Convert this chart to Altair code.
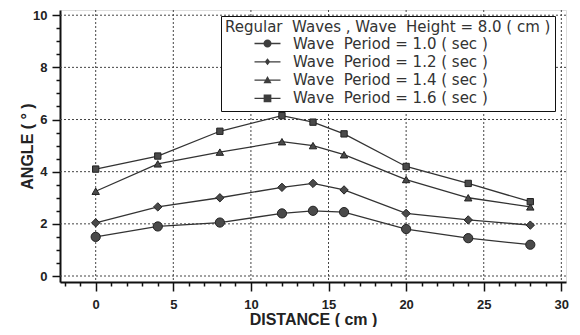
import altair as alt
import pandas as pd

distance = [0, 4, 8, 12, 14, 16, 20, 24, 28]
series_labels = [
    "Wave\u00a0 Period = 1.0 ( sec )",
    "Wave\u00a0 Period = 1.2 ( sec )",
    "Wave\u00a0 Period = 1.4 ( sec )",
    "Wave\u00a0 Period = 1.6 ( sec )",
]
angle_10 = [1.5, 1.9, 2.05, 2.4, 2.5, 2.45, 1.8, 1.45, 1.2]
angle_12 = [2.04, 2.65, 3.0, 3.4, 3.55, 3.3, 2.4, 2.15, 1.95]
angle_14 = [3.25, 4.3, 4.75, 5.15, 5.0, 4.65, 3.7, 3.0, 2.65]
angle_16 = [4.1, 4.6, 5.55, 6.15, 5.9, 5.45, 4.2, 3.55, 2.85]
x_tick_values = list(range(-2, 31))
y_tick_values = [i * 0.5 for i in range(21)]
x_grid_values = [0, 5, 10, 15, 20, 25, 30]
y_grid_values = [0, 2, 4, 6, 8, 10]

legend_title = "Regular\u00a0 Waves , Wave\u00a0 Height = 8.0 ( cm )"
shapes = ["circle", "diamond", "triangle-up", "square"]
# legend glyphs: a short horizontal bar (line) plus the marker, all filled
bar = "M-3.2,-0.16H3.2V0.16H-3.2Z"
legend_paths = [
    bar + "M1,0A1,1,0,1,1,-1,0A1,1,0,1,1,1,0Z",
    bar + "M0,-0.85L0.68,0L0,0.85L-0.68,0Z",
    bar + "M0,-1L1,0.8L-1,0.8Z",
    bar + "M-0.95,-0.95H0.95V0.95H-0.95Z",
]

rows = []
for lab, vals in zip(series_labels, [angle_10, angle_12, angle_14, angle_16]):
    for d, v in zip(distance, vals):
        rows.append({"distance": d, "angle": v, "series": lab})
df = pd.DataFrame(rows)
xg = pd.DataFrame({"distance": x_grid_values})
yg = pd.DataFrame({"angle": y_grid_values})

x_scale = alt.Scale(domain=[-2.3, 30.3], nice=False, zero=False)
y_scale = alt.Scale(domain=[-0.23, 10.2], nice=False, zero=False)

x_axis = alt.Axis(
    values=x_tick_values,
    title="DISTANCE ( cm )",
    labelExpr="datum.value % 5 === 0 ? format(datum.value, 'd') : ''",
    tickSize={"condition": {"test": "datum.value % 5 === 0", "value": 9}, "value": 4},
    grid=False,
    domainColor="#111111",
    domainWidth=2,
    tickColor="#111111",
    tickWidth=1.5,
    labelFont="Liberation Sans",
    labelFontWeight="bold",
    labelFontSize=13,
    labelColor="#222222",
    labelPadding=7,
    labelOverlap=False,
    titleFont="Liberation Sans",
    titleFontWeight="bold",
    titleFontSize=16,
    titleColor="#222222",
    titlePadding=0,
    labelFlush=False,
)
y_axis = alt.Axis(
    values=y_tick_values,
    title="ANGLE ( ° )",
    labelExpr="datum.value % 2 === 0 ? format(datum.value, 'd') : ''",
    tickSize={"condition": {"test": "datum.value % 2 === 0", "value": 8}, "value": 4},
    grid=False,
    domainColor="#111111",
    domainWidth=2,
    tickColor="#111111",
    tickWidth=1.5,
    labelFont="Liberation Sans",
    labelFontWeight="bold",
    labelFontSize=13,
    labelColor="#222222",
    labelPadding=5,
    labelOverlap=False,
    titleFont="Liberation Sans",
    titleFontWeight="bold",
    titleFontSize=16,
    titleColor="#222222",
    titlePadding=-3,
    labelFlush=False,
)

X = alt.X("distance:Q", scale=x_scale, axis=x_axis)
Y = alt.Y("angle:Q", scale=y_scale, axis=y_axis)

grid_style = dict(color="#444444", strokeWidth=1, strokeDash=[2, 2])
xgrid = alt.Chart(xg).mark_rule(**grid_style).encode(x=X)
ygrid = alt.Chart(yg).mark_rule(**grid_style).encode(y=Y)

base = alt.Chart(df)

lines = base.mark_line(color="#333333", strokeWidth=1.3).encode(x=X, y=Y, detail="series:N")

points = base.mark_point(filled=True, fill="#4a4a4a", stroke="#222222", strokeWidth=1, opacity=1).encode(
    x=X,
    y=Y,
    shape=alt.Shape("series:N", scale=alt.Scale(domain=series_labels, range=shapes), legend=None),
    size=alt.Size("series:N", scale=alt.Scale(domain=series_labels, range=[85, 40, 65, 95]), legend=None),
)

legend_layer = base.mark_point(
    filled=True, fill="#3d3d3d", opacity=0, size=66
).encode(
    x=X,
    y=Y,
    shape=alt.Shape(
        "series:N",
        scale=alt.Scale(domain=series_labels, range=legend_paths),
        legend=alt.Legend(
            title=legend_title,
            orient="none",
            legendX=161,
            legendY=6,
            padding=4,
            fillColor="white",
            strokeColor="#111111",
            cornerRadius=0,
            symbolOpacity=1,
            symbolFillColor="#3d3d3d",
            symbolSize=66,
            symbolOffset=35,
            labelOffset=18,
            labelFont="DejaVu Sans",
            labelFontSize=15,
            labelColor="#333333",
            labelLimit=400,
            titleFont="DejaVu Sans",
            titleFontSize=15,
            titleFontWeight="normal",
            titleColor="#333333",
            titleLimit=400,
            titlePadding=1,
            rowPadding=2.3,
        ),
    ),
)

chart = (
    alt.layer(xgrid, ygrid, lines, points, legend_layer)
    .resolve_scale(shape="independent", size="independent")
    .properties(width=506, height=272, padding={"left": 52, "top": 2, "right": 6, "bottom": 45}, autosize="none")
    .configure_view(stroke="#111111", strokeWidth=2)
    .configure_legend(strokeWidth=1.5)
    .configure(background="white")
)

chart.save("out.html", embed_options={"renderer": "svg", "actions": False})
